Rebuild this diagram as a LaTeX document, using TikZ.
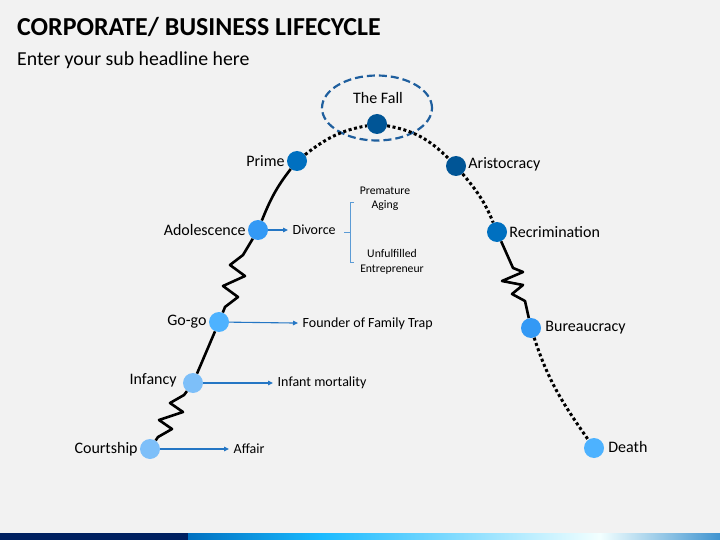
\documentclass[tikz,border=0pt]{standalone}
\usepackage{fontspec}
\setmainfont{Carlito}
\usetikzlibrary{arrows.meta}

\definecolor{slidebg}{HTML}{F2F2F2}
\definecolor{stageA}{HTML}{7DBFF9}
\definecolor{stageB}{HTML}{4DB2FF}
\definecolor{stageC}{HTML}{3399F5}
\definecolor{stageD}{HTML}{0070C0}
\definecolor{stageE}{HTML}{005596}
\definecolor{flowblue}{HTML}{2476C4}
\definecolor{ringblue}{HTML}{1F5F9E}
\definecolor{braceblue}{HTML}{5B9BD5}
\definecolor{barnavy}{HTML}{002060}

\begin{document}
\begin{tikzpicture}[x=1pt,y=1pt,
    stage/.style={circle,minimum size=20pt,inner sep=0pt},
    lbl/.style={font=\fontsize{16}{19}\selectfont,inner sep=2pt},
    note/.style={font=\fontsize{14}{17}\selectfont,inner sep=4.5pt,anchor=west},
    small/.style={font=\fontsize{11.7}{14.5}\selectfont,align=center},
    trail/.style={line width=2.6pt,line join=round},
    dots/.style={line width=3pt,dash pattern=on 3pt off 2.6pt},
    flow/.style={draw=flowblue,line width=1.1pt,-{Triangle[length=5pt,width=4.5pt]}},
    brace/.style={draw=braceblue,line width=0.8pt},
    ring/.style={draw=ringblue,line width=2.2pt,dash pattern=on 8pt off 4pt}]
    % slide
    \fill[slidebg] (0,0) rectangle (720,-540);
    \fill[barnavy] (0,-533) rectangle (188,-540);
    \shade[left color=stageD,right color=cyan!70!blue!90] (188,-533) rectangle (320,-540);
    \shade[left color=cyan!70!blue!90,right color=white!95!cyan] (320,-533) rectangle (600,-540);
    \shade[left color=white!95!cyan,right color=stageD!75] (600,-533) rectangle (720,-540);
    \node[anchor=base west,inner sep=0pt,font=\bfseries\fontsize{25.9}{30}\selectfont] (title) at (17,-36) {CORPORATE/ BUSINESS LIFECYCLE};
    \node[anchor=base west,inner sep=0pt,font=\fontsize{19.8}{23}\selectfont] (subtitle) at (17,-66) {Enter your sub headline here};

    % stages
    \node[stage,fill=stageA,label={[lbl]left:Courtship}] (courtship) at (150,-449) {};
    \node[stage,fill=stageA,label={[lbl,yshift=3pt,label distance=4pt]left:Infancy}] (infancy) at (193,-383) {};
    \node[stage,fill=stageB,label={[lbl]left:Go-go}] (gogo) at (219,-322) {};
    \node[stage,fill=stageC,label={[lbl]left:Adolescence}] (adolescence) at (258,-230) {};
    \node[stage,fill=stageD,label={[lbl]left:Prime}] (prime) at (297,-161) {};
    \node[stage,fill=stageE] (fall) at (377,-124) {};
    \node[stage,fill=stageE,label={[lbl,yshift=2pt]right:Aristocracy}] (aristocracy) at (456,-166) {};
    \node[stage,fill=stageD,label={[lbl]right:Recrimination}] (recrimination) at (497,-232) {};
    \node[stage,fill=stageC,label={[lbl,label distance=2pt]right:Bureaucracy}] (bureaucracy) at (531,-328) {};
    \node[stage,fill=stageB,label={[lbl,yshift=1pt,label distance=2pt]right:Death}] (death) at (594,-448) {};
    \node[lbl,anchor=base] (falltext) at (378,-104) {The Fall};
    \draw[ring] (377,-108) ellipse [x radius=55, y radius=32.5];

    % lifecycle curve
    \draw[trail] (courtship) -- (158,-437) -- (172,-429) -- (159,-420) -- (183,-412) -- (170,-403) -- (184,-395) -- (infancy);
    \draw[trail] (infancy) -- (gogo);
    \draw[trail] (gogo) -- (225,-307) -- (238,-297) -- (223,-286) -- (245,-276) -- (230,-265) -- (243,-255) -- (adolescence);
    \draw[trail] (adolescence) to[out=68,in=232] (prime);
    \draw[dots] (prime) to[out=38,in=190] (fall);
    \draw[dots] (fall) to[out=-10,in=135] (aristocracy);
    \draw[dots] (aristocracy) to[out=-50,in=112] (recrimination);
    \draw[trail] (recrimination) -- (513,-268) -- (523,-272) -- (502,-281) -- (523,-285) -- (512,-294) -- (525,-301) -- (bureaucracy);
    \draw[dots] (bureaucracy) to[out=-72,in=125] (death);

    % traps
    \node[note] (affair) at (229,-449) {Affair};
    \node[note] (mortality) at (273,-383) {Infant mortality};
    \node[note] (familytrap) at (298,-324) {Founder of Family Trap};
    \node[note] (divorce) at (288,-230) {Divorce};
    \node[small] (premature) at (385,-199) {Premature\\Aging};
    \node[small] (unfulfilled) at (392,-262) {Unfulfilled\\Entrepreneur};
    \draw[flow] (courtship) -- (affair);
    \draw[flow] (infancy) -- (mortality);
    \draw[flow] (gogo) -- (familytrap);
    \draw[flow] (adolescence) -- (divorce);
    \coordinate (bracemid) at (350,-232);
    \draw[brace] (354,-202) -| (350,-262) -- (354,-262);
    \draw[brace] (344,-232) -- (bracemid);
\end{tikzpicture}
\end{document}
